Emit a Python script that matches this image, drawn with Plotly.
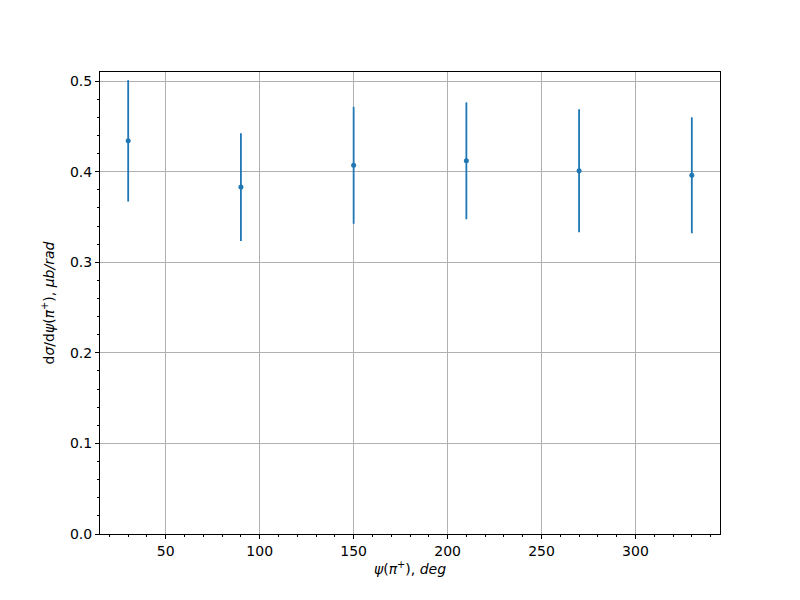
import plotly.graph_objects as go

psi_deg = [30, 90, 150, 210, 270, 330]
dsigma = [0.434, 0.383, 0.407, 0.412, 0.401, 0.396]
dsigma_err = [0.067, 0.0595, 0.0645, 0.0645, 0.068, 0.064]

x_ticks = [50, 100, 150, 200, 250, 300]
y_ticks = [0.0, 0.1, 0.2, 0.3, 0.4, 0.5]

blue = "#1f77b4"
font = dict(family="DejaVu Sans", size=14, color="black")

fig = go.Figure()
fig.add_trace(go.Scatter(
    x=psi_deg, y=dsigma, mode="markers",
    marker=dict(color=blue, size=5),
    error_y=dict(type="data", array=dsigma_err, visible=True, color=blue, thickness=1.8, width=0),
    showlegend=False,
))

axis_common = dict(
    showline=True, linecolor="black", linewidth=1, mirror=True,
    ticks="outside", ticklen=4, tickwidth=1, tickcolor="black",
    showgrid=True, gridcolor="#b0b0b0", gridwidth=1,
    zeroline=False, tickfont=font,
)

fig.update_xaxes(
    range=[15, 345], tickvals=x_ticks, ticktext=[str(v) for v in x_ticks],
    minor=dict(dtick=10, tick0=0, ticks="outside", ticklen=2, tickcolor="black", showgrid=False),
    title=dict(text="<i>ψ</i>(<i>π</i><sup>+</sup>), <i>deg</i>", font=font, standoff=6),
    **axis_common,
)
fig.update_yaxes(
    range=[0, 0.51], tickvals=y_ticks, ticktext=[f"{v:.1f}" for v in y_ticks],
    minor=dict(dtick=0.02, tick0=0, ticks="outside", ticklen=2, tickcolor="black", showgrid=False),
    title=dict(text="d<i>σ</i>/d<i>ψ</i>(<i>π</i><sup>+</sup>), <i>μb/rad</i>", font=font, standoff=12),
    **axis_common,
)

fig.update_layout(
    width=784, height=584,
    margin=dict(l=92, r=72, t=64, b=58, autoexpand=False),
    paper_bgcolor="white", plot_bgcolor="white",
    font=font,
)

fig.write_html("out.html")
